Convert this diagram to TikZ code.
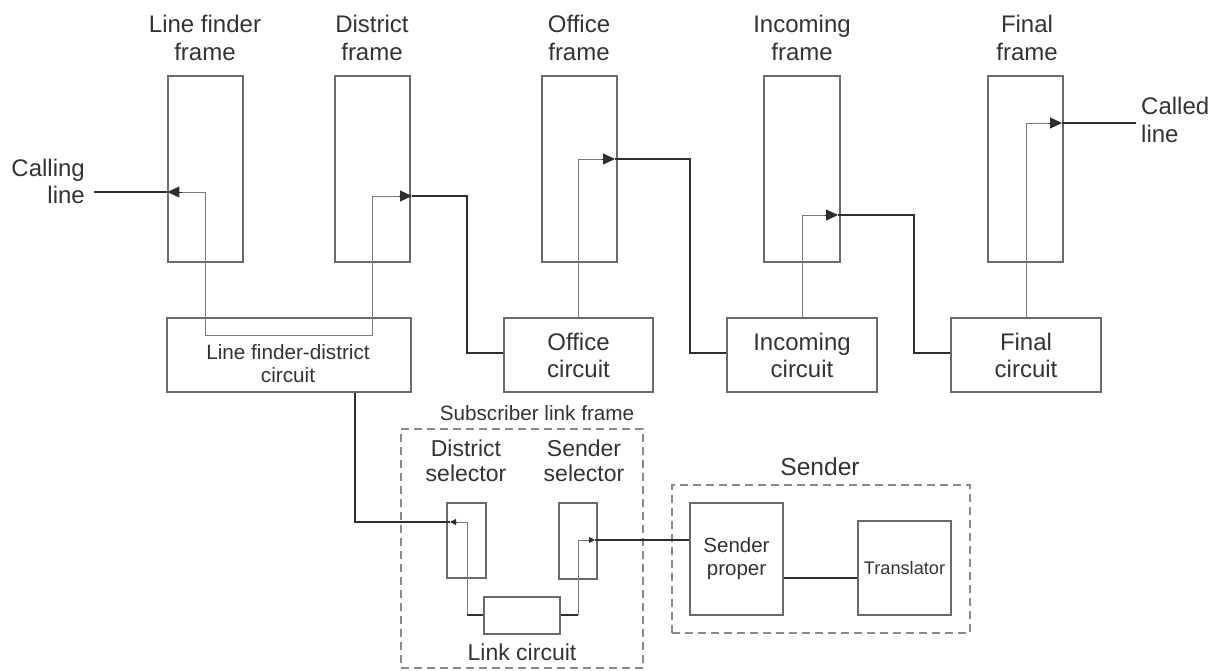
\documentclass[tikz,border=0pt]{standalone}
\usepackage{fontspec}
\setmainfont{Liberation Sans}
\usetikzlibrary{arrows.meta,calc}
\definecolor{boxc}{HTML}{6A6A6A}
\definecolor{thinc}{HTML}{7A7A7A}
\definecolor{thickc}{HTML}{2E2E2E}
\definecolor{dashc}{HTML}{8A8A8A}
\definecolor{txtc}{HTML}{333333}
\begin{document}
\begin{tikzpicture}[x=1pt,y=-1pt,
  box/.style={draw=boxc,line width=1.2pt,inner sep=0pt,text=txtc,align=center},
  framebox/.style={box,minimum width=75pt,minimum height=186pt},
  circbox/.style={box,minimum height=74pt,font=\fontsize{24}{27}\selectfont},
  dashbox/.style={draw=dashc,line width=1.4pt,dash pattern=on 8pt off 5pt,inner sep=0pt},
  lab/.style={text=txtc,inner sep=0pt,align=center,font=\fontsize{24}{28}\selectfont},
  smalllab/.style={text=txtc,inner sep=0pt,align=center,font=\fontsize{20.7}{23}\selectfont},
  thinw/.style={draw=thinc,line width=1pt},
  thickw/.style={draw=thickc,line width=2pt},
  bigarr/.style={draw=thickc,fill=thickc,line width=1pt,-{Triangle[length=12pt,width=11pt]}},
  smallarr/.style={draw=thickc,fill=thickc,line width=1pt,-{Triangle[length=6pt,width=6pt]}}
]
\useasboundingbox (0,0) rectangle (1214,670);

% frames
\node[framebox] (lf) at (205.5,169) {};
\node[framebox] (df) at (372.5,169) {};
\node[framebox] (of) at (579.5,169) {};
\node[framebox,minimum width=76pt] (inf) at (802,169) {};
\node[framebox] (ff) at (1025.5,169) {};

% frame labels
\node[lab] (lft) at (205,38.25) {Line finder\\frame};
\node[lab] (dft) at (372,38.25) {District\\frame};
\node[lab] (oft) at (579,38.25) {Office\\frame};
\node[lab] (inft) at (802,38.25) {Incoming\\frame};
\node[lab] (fft) at (1027,38.25) {Final\\frame};
\node[lab,align=right,anchor=east,font=\fontsize{24}{27}\selectfont] (calling) at (85,181.75) {Calling\\line};
\node[lab,align=left,anchor=west] (called) at (1141,120) {Called\\line};

% circuits
\node[box,minimum width=244pt,minimum height=74pt] (lfd) at (289,355) {};
\node[smalllab] (lfdt) at (288,364) {Line finder-district\\circuit};
\node[circbox,minimum width=149pt] (oc) at (578.5,355) {Office\\circuit};
\node[circbox,minimum width=150pt] (ic) at (802,355) {Incoming\\circuit};
\node[circbox,minimum width=150pt] (fc) at (1026,355) {Final\\circuit};

% subscriber link frame
\node[dashbox,minimum width=242pt,minimum height=239pt] (slf) at (522,548.5) {};
\node[smalllab] (slft) at (537,413) {Subscriber link frame};
\node[lab,font=\fontsize{23}{25}\selectfont] (dselt) at (466,461) {District\\selector};
\node[lab,font=\fontsize{23}{25}\selectfont] (sselt) at (584,461) {Sender\\selector};
\node[box,minimum width=39pt,minimum height=75pt] (dsel) at (466.5,540.5) {};
\node[box,minimum width=38pt,minimum height=76pt] (ssel) at (578,541) {};
\node[box,minimum width=76pt,minimum height=37pt] (link) at (522,615.5) {};
\node[lab,font=\fontsize{23}{25}\selectfont] (linkt) at (522,652) {Link circuit};

% sender
\node[dashbox,minimum width=298pt,minimum height=148pt] (snd) at (821,559) {};
\node[lab,font=\fontsize{24.6}{28}\selectfont] (sndt) at (820,467) {Sender};
\node[box,minimum width=93pt,minimum height=112pt,font=\fontsize{20.5}{23}\selectfont] (sp) at (736.5,559) {Sender\\proper};
\node[box,minimum width=93pt,minimum height=94pt,font=\fontsize{18.2}{22}\selectfont] (tr) at (904.5,568) {Translator};

% named points
\coordinate (c0) at (94,192);

% thin internal connections
\draw[thinw] (181,192) -- (205,192) -- (205,335) -- (372,335) -- (372,196) -- (400,196);
\draw[thinw] (oc.north) -- (578.5,159) -- (603,159);
\draw[thinw] (ic.north) -- (802,215) -- (827,215);
\draw[thinw] (fc.north) -- (1026,123) -- (1050,123);
\draw[thinw] (456,522) -- (467,522) -- (467,615);
\draw[thinw] (578,615) -- (578,540) -- (589,540);

% thick connections
\draw[thickw] (c0) -- (lf.west |- c0);
\draw[thickw] (412,196) -- (467,196) -- (467,353) -- (oc.west |- 0,353);
\draw[thickw] (615,159) -- (690,159) -- (690,353) -- (ic.west |- 0,353);
\draw[thickw] (838,215) -- (914,215) -- (914,353) -- (fc.west |- 0,353);
\draw[thickw] (1062,123) -- (1136,123);
\draw[thickw] (lfd.south -| 355,0) -- (355,522) -- (450,522);
\draw[thickw] (467,615) -- (link.west |- 0,615);
\draw[thickw] (link.east |- 0,615) -- (578,615);
\draw[thickw] (595,540) -- (sp.west |- 0,540);
\draw[thickw] (sp.east |- 0,578) -- (tr.west |- 0,578);

% arrowheads
\draw[bigarr] (182,192) -- (lf.west |- 0,192);
\draw[bigarr] (399,196) -- (412,196);
\draw[bigarr] (602,159) -- (615,159);
\draw[bigarr] (825,215) -- (838,215);
\draw[bigarr] (1049,123) -- (1062,123);
\draw[smallarr] (457,522) -- (450,522);
\draw[smallarr] (588,540) -- (595,540);
\end{tikzpicture}
\end{document}
